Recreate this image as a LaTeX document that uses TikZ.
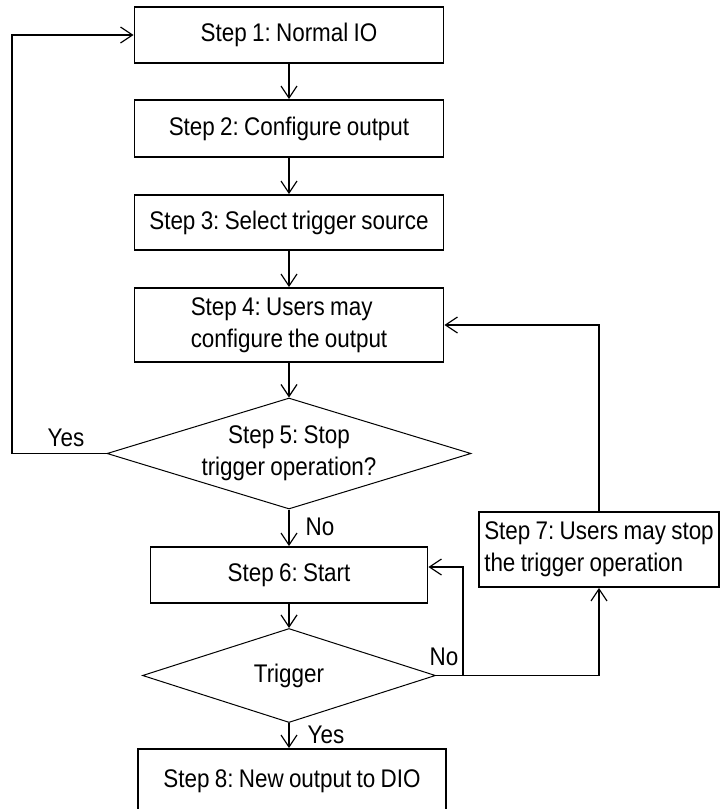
\documentclass[tikz,border=0pt]{standalone}
\usepackage{fontspec}
\setmainfont{Liberation Sans}[FakeStretch=0.88, WordSpace=0.85]
\frenchspacing
\usetikzlibrary{shapes.geometric,arrows.meta}
\tikzset{
  stepbox/.style={draw, rectangle, line width=1.8pt, inner sep=2pt},
  decision/.style={draw, diamond, line width=1pt, inner sep=0pt},
  flow/.style={line width=1.8pt, -{Straight Barb[length=12pt,width=16pt,line width=1.2pt]}},
  lbl/.style={inner sep=0pt}
}
\begin{document}
\begin{tikzpicture}[x=1pt, y=-1pt, font=\fontsize{25.5}{32}\selectfont, line join=miter]
\useasboundingbox (0,0) rectangle (721,809);
% the steps
\node[stepbox, minimum width=309, minimum height=56] (s1) at (289,35) {Step 1: Normal IO};
\node[stepbox, minimum width=309, minimum height=57] (s2) at (289,128.5) {Step 2: Configure output};
\node[stepbox, minimum width=309, minimum height=55] (s3) at (289,222.5) {Step 3: Select trigger source};
\node[stepbox, minimum width=309, minimum height=74, align=left] (s4) at (289,325) {Step 4: Users may\\configure the output};
\node[decision, shape aspect=3.28, minimum width=364, minimum height=111, align=center] (s5) at (289,453.5) {Step 5: Stop\\trigger operation?};
\node[stepbox, minimum width=277, minimum height=56] (s6) at (289,575) {Step 6: Start};
\node[decision, minimum width=293, minimum height=75] (trig) at (289,675.5) {Trigger};
\node[stepbox, minimum width=240, minimum height=75, align=left] (s7) at (599,549.5) {Step 7: Users may stop\\the trigger operation};
\node[stepbox, minimum width=308, minimum height=64] (s8) at (292,781) {Step 8: New output to DIO};
% turning points
\coordinate (lft) at (12,0);
\coordinate (nx) at (463,0);
% connectors
\draw[flow] (s1) -- (s2);
\draw[flow] (s2) -- (s3);
\draw[flow] (s3) -- (s4);
\draw[flow] (s4) -- (s5);
\draw[flow] (s5.west) -- (s5.west -| lft) |- (s1.west);
\draw[flow] (s5) -- (s6);
\draw[flow] (s6) -- (trig);
\draw[flow] (trig.south) -- (trig.south |- s8.north);
\draw[flow] (trig.east) -- (trig.east -| nx) |- ([yshift=8pt]s6.east);
\draw[flow] (trig.east) -| (s7.south);
\draw[flow] (s7.north) |- (s4.east);
% labels
\node[lbl] (yes1) at (66,438) {Yes};
\node[lbl] (no1) at (320,527) {No};
\node[lbl] (no2) at (444,657) {No};
\node[lbl] (yes2) at (326,735) {Yes};
\end{tikzpicture}
\end{document}
